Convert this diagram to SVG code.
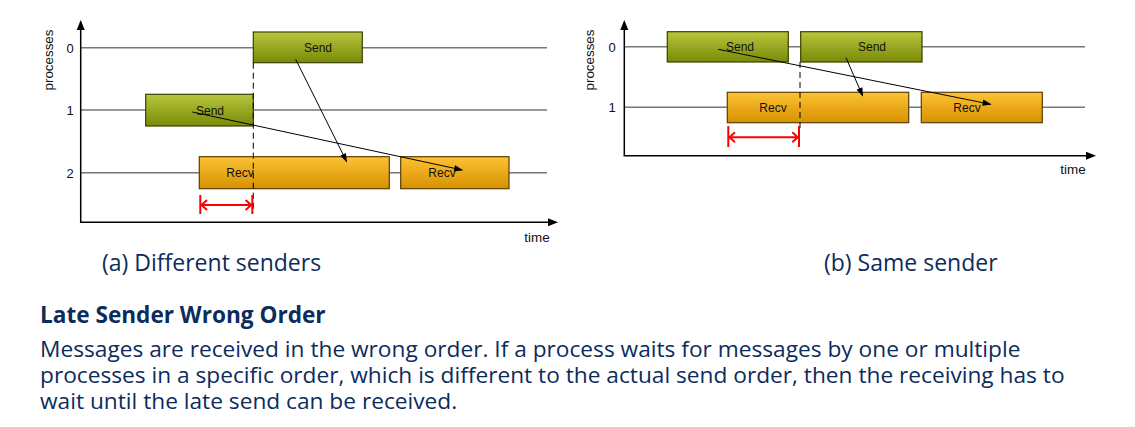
<svg xmlns="http://www.w3.org/2000/svg" width="1135" height="427" viewBox="0 0 1135 427">
<defs>
<linearGradient id="gGreen" x1="0" y1="0" x2="0" y2="1">
<stop offset="0" stop-color="#b7c63c"/>
<stop offset="1" stop-color="#7a8a08"/>
</linearGradient>
<linearGradient id="gOrange" x1="0" y1="0" x2="0" y2="1">
<stop offset="0" stop-color="#fdc236"/>
<stop offset="1" stop-color="#d79100"/>
</linearGradient>
<marker id="ah" viewBox="0 0 10 10" refX="9" refY="5" markerWidth="10" markerHeight="9" markerUnits="userSpaceOnUse" orient="auto">
<path d="M0,1.5 L10,5 L0,8.5 Z" fill="#000"/>
</marker>
</defs>
<style>
.tl{stroke:#777;stroke-width:1.4;fill:none}
.ax{stroke:#000;stroke-width:1.5;fill:none}
.send{fill:url(#gGreen);stroke:#3a4000;stroke-width:1.2}
.recv{fill:url(#gOrange);stroke:#5a3f00;stroke-width:1.2}
.lbl{font-family:"Liberation Sans",Arial,sans-serif;font-size:12px;fill:#111}
.axl{font-family:"Liberation Sans",Arial,sans-serif;font-size:13.4px;fill:#111}
.tick{font-family:"Liberation Sans",Arial,sans-serif;font-size:13px;fill:#111}
.msg{stroke:#000;stroke-width:1;fill:none;marker-end:url(#ah)}
.dash{stroke:#000;stroke-width:1;stroke-dasharray:6,4;fill:none}
.red{stroke:#f00;stroke-width:2;fill:none}
.cap{font-family:"Open Sans",sans-serif;font-size:23px;fill:#0c2c5c}
.title{font-family:"Open Sans",sans-serif;font-size:22.6px;font-weight:bold;fill:#0c2c5c}
.body{font-family:"Open Sans",sans-serif;font-size:22.7px;fill:#0c2c5c}
</style>

<g id="panel-a">
<g id="a-axes">
<line class="tl" x1="81" y1="47.7" x2="547" y2="47.7"/>
<line class="tl" x1="81" y1="110" x2="547" y2="110"/>
<line class="tl" x1="81" y1="172.7" x2="547" y2="172.7"/>
<line class="ax" x1="80.7" y1="222.3" x2="80.7" y2="22"/>
<path d="M76.7,30 L80.7,20 L84.7,30 Z" fill="#000"/>
<line class="ax" x1="80" y1="222.3" x2="549" y2="222.3"/>
<path d="M548,218.3 L558,222.3 L548,226.3 Z" fill="#000"/>
<text class="tick" x="70" y="52.5" text-anchor="middle">0</text>
<text class="tick" x="70" y="114.8" text-anchor="middle">1</text>
<text class="tick" x="70" y="177.5" text-anchor="middle">2</text>
<text class="axl" transform="translate(53,60) rotate(-90)" text-anchor="middle">processes</text>
<text class="axl" x="537" y="242" text-anchor="middle">time</text>
</g>
<g id="a-send0"><rect class="send" x="253.3" y="32" width="109" height="30.7"/><text class="lbl" x="318" y="52" text-anchor="middle">Send</text></g>
<g id="a-send1"><rect class="send" x="145.7" y="94.3" width="107.6" height="31.7"/><text class="lbl" x="210" y="114.5" text-anchor="middle">Send</text></g>
<g id="a-recv1"><rect class="recv" x="199.3" y="156.7" width="190" height="32"/><text class="lbl" x="240" y="177" text-anchor="middle">Recv</text></g>
<g id="a-recv2"><rect class="recv" x="400.7" y="156.7" width="108.3" height="32"/><text class="lbl" x="442" y="177" text-anchor="middle">Recv</text></g>
<g id="a-connectors">
<line class="dash" x1="253.3" y1="62.7" x2="253.3" y2="213"/>
<line class="msg" x1="192.3" y1="112" x2="462.3" y2="170"/>
<line class="msg" x1="295.7" y1="59.3" x2="346.7" y2="161.7"/>
</g>
<g id="a-wait">
<line class="red" x1="200.3" y1="205" x2="252.3" y2="205"/>
<line class="red" x1="200.3" y1="195" x2="200.3" y2="214"/>
<line class="red" x1="252.3" y1="195" x2="252.3" y2="214"/>
<path class="red" d="M207,200 L201.5,205 L207,210 M245.6,200 L251.1,205 L245.6,210"/>
</g>
</g>

<g id="panel-b">
<g id="b-axes">
<line class="tl" x1="625" y1="46.7" x2="1085" y2="46.7"/>
<line class="tl" x1="625" y1="107.3" x2="1085" y2="107.3"/>
<line class="ax" x1="624.3" y1="155.7" x2="624.3" y2="22"/>
<path d="M620.3,30 L624.3,20 L628.3,30 Z" fill="#000"/>
<line class="ax" x1="623.6" y1="155.7" x2="1087" y2="155.7"/>
<path d="M1086,151.7 L1096,155.7 L1086,159.7 Z" fill="#000"/>
<text class="tick" x="612" y="51.5" text-anchor="middle">0</text>
<text class="tick" x="612" y="112" text-anchor="middle">1</text>
<text class="axl" transform="translate(594,60) rotate(-90)" text-anchor="middle">processes</text>
<text class="axl" x="1073" y="174" text-anchor="middle">time</text>
</g>
<g id="b-send0a"><rect class="send" x="667.3" y="31.7" width="121" height="30.3"/><text class="lbl" x="740" y="51" text-anchor="middle">Send</text></g>
<g id="b-send0b"><rect class="send" x="800.7" y="31.7" width="121.3" height="30.3"/><text class="lbl" x="872" y="51" text-anchor="middle">Send</text></g>
<g id="b-recv1a"><rect class="recv" x="727.3" y="92.3" width="181.4" height="30.4"/><text class="lbl" x="773" y="111.5" text-anchor="middle">Recv</text></g>
<g id="b-recv1b"><rect class="recv" x="921.3" y="92.3" width="121" height="30.4"/><text class="lbl" x="967" y="111.5" text-anchor="middle">Recv</text></g>
<g id="b-connectors">
<line class="dash" x1="800" y1="62" x2="800" y2="132"/>
<line class="msg" x1="718.3" y1="49.3" x2="990.7" y2="104.3"/>
<line class="msg" x1="846" y1="57.7" x2="862.7" y2="96"/>
</g>
<g id="b-wait">
<line class="red" x1="728.3" y1="137.3" x2="799" y2="137.3"/>
<line class="red" x1="728.3" y1="126" x2="728.3" y2="147"/>
<line class="red" x1="799" y1="126" x2="799" y2="147"/>
<path class="red" d="M735,132.3 L729.5,137.3 L735,142.3 M792.3,132.3 L797.8,137.3 L792.3,142.3"/>
</g>
</g>

<g id="text">
<text class="cap" x="102" y="271">(a) Different senders</text>
<text class="cap" x="824" y="271">(b) Same sender</text>
<text class="title" x="40" y="323">Late Sender Wrong Order</text>
<text class="body" x="40" y="357">Messages are received in the wrong order. If a process waits for messages by one or multiple</text>
<text class="body" x="40" y="383">processes in a specific order, which is different to the actual send order, then the receiving has to</text>
<text class="body" x="40" y="409">wait until the late send can be received.</text>
</g>
</svg>
